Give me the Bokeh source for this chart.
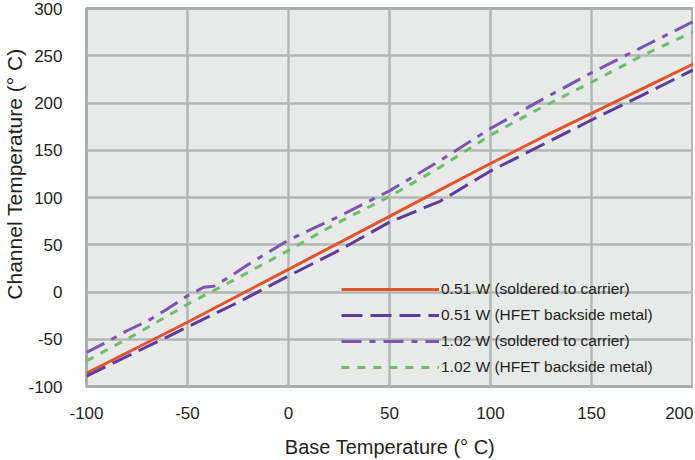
from bokeh.plotting import figure
from bokeh.models import FixedTicker, Legend, LegendItem, Range1d, Title
from bokeh.embed import file_html
from bokeh.resources import INLINE

# ---- data ----
x_orange = [-100, -75, -50, -25, 0, 25, 50, 75, 100, 125, 150, 175, 205]
y_orange = [-86, -59, -32, -4, 24, 52, 80, 108, 136, 163, 189, 215, 246]

x_dpurple = [-100, -75, -50, -25, 0, 25, 50, 75, 100, 125, 150, 175, 205]
y_dpurple = [-89, -63, -37, -11, 17, 44, 74, 96, 128, 155, 182, 208, 240]

x_purple = [-100, -90, -80, -70, -60, -50, -42, -37, -30, -20, 0, 25, 50,
            75, 100, 125, 150, 175, 203]
y_purple = [-64, -53, -41, -31, -18, -4, 5, 6, 15, 29, 55, 80, 107,
            139, 173, 203, 232, 259, 289]

x_green = [-100, -75, -50, -25, 0, 25, 50, 75, 100, 125, 150, 175, 203]
y_green = [-73, -44, -13, 15, 44, 74, 101, 132, 166, 195, 222, 250, 278]

labels = ["0.51 W (soldered to carrier)", "0.51 W (HFET backside metal)",
          "1.02 W (soldered to carrier)", "1.02 W (HFET backside metal)"]
x_ticks = [-100, -50, 0, 50, 100, 150, 200]
y_ticks = [-100, -50, 0, 50, 100, 150, 200, 250, 300]

FONT = "Liberation Sans"
TXT = "#231f20"
GRID = "#b3b8b6"

p = figure(width=693, height=460, output_backend="svg",
           toolbar_location=None, x_range=Range1d(-100, 200.5),
           y_range=Range1d(-100, 300),
           min_border_left=80, min_border_right=0, min_border_top=8,
           min_border_bottom=74, background_fill_color="#e8e9e9",
           border_fill_color="white")

p.outline_line_color = "#a9aeac"
p.outline_line_width = 3

for ax in (p.xaxis[0], p.yaxis[0]):
    ax.axis_line_color = None
    ax.major_tick_line_color = None
    ax.minor_tick_line_color = None
    ax.major_label_text_font = FONT
    ax.major_label_text_font_size = "17px"
    ax.major_label_text_color = TXT
    ax.axis_label_text_font = FONT
    ax.axis_label_text_font_style = "normal"
    ax.axis_label_text_color = TXT

p.xaxis.ticker = FixedTicker(ticks=x_ticks)
p.yaxis.ticker = FixedTicker(ticks=y_ticks)
p.xaxis.major_label_overrides = {t: str(t) for t in x_ticks}
p.yaxis.major_label_overrides = {t: str(t) for t in y_ticks}
p.xaxis.axis_label = "Base Temperature (° C)"
p.xaxis.axis_label_text_font_size = "20px"
p.xaxis.major_label_standoff = 14
p.xaxis.axis_label_standoff = 14
p.yaxis.major_label_standoff = 18

ytitle = Title(text="Channel Temperature (° C)", align="right", offset=40,
               text_font=FONT, text_font_size="21px",
               text_font_style="normal", text_color=TXT, standoff=0)
p.add_layout(ytitle, "left")

p.grid.grid_line_color = GRID
p.grid.grid_line_width = 2.5
p.xgrid.ticker = FixedTicker(ticks=x_ticks)
p.ygrid.ticker = FixedTicker(ticks=y_ticks)

r1 = p.line(x_orange, y_orange, line_color="#e4532a", line_width=3)
r2 = p.line(x_dpurple, y_dpurple, line_color="#5c3d9e", line_width=3,
            line_dash="21 8")
r3 = p.line(x_purple, y_purple, line_color="#7a56b2", line_width=3,
            line_dash="20 8 6 8")
r4 = p.line(x_green, y_green, line_color="#6abf69", line_width=3,
            line_dash="8 8")

legend = Legend(items=[LegendItem(label=l, renderers=[r])
                       for l, r in zip(labels, [r1, r2, r3, r4])],
                location=(255, 9), background_fill_alpha=0,
                border_line_color=None, padding=0, margin=0,
                glyph_width=98, glyph_height=20, label_height=20,
                label_standoff=2, spacing=6,
                label_text_font=FONT, label_text_font_size="15.5px",
                label_text_color=TXT)
p.add_layout(legend)

open("out.html", "w").write(file_html(p, INLINE))
